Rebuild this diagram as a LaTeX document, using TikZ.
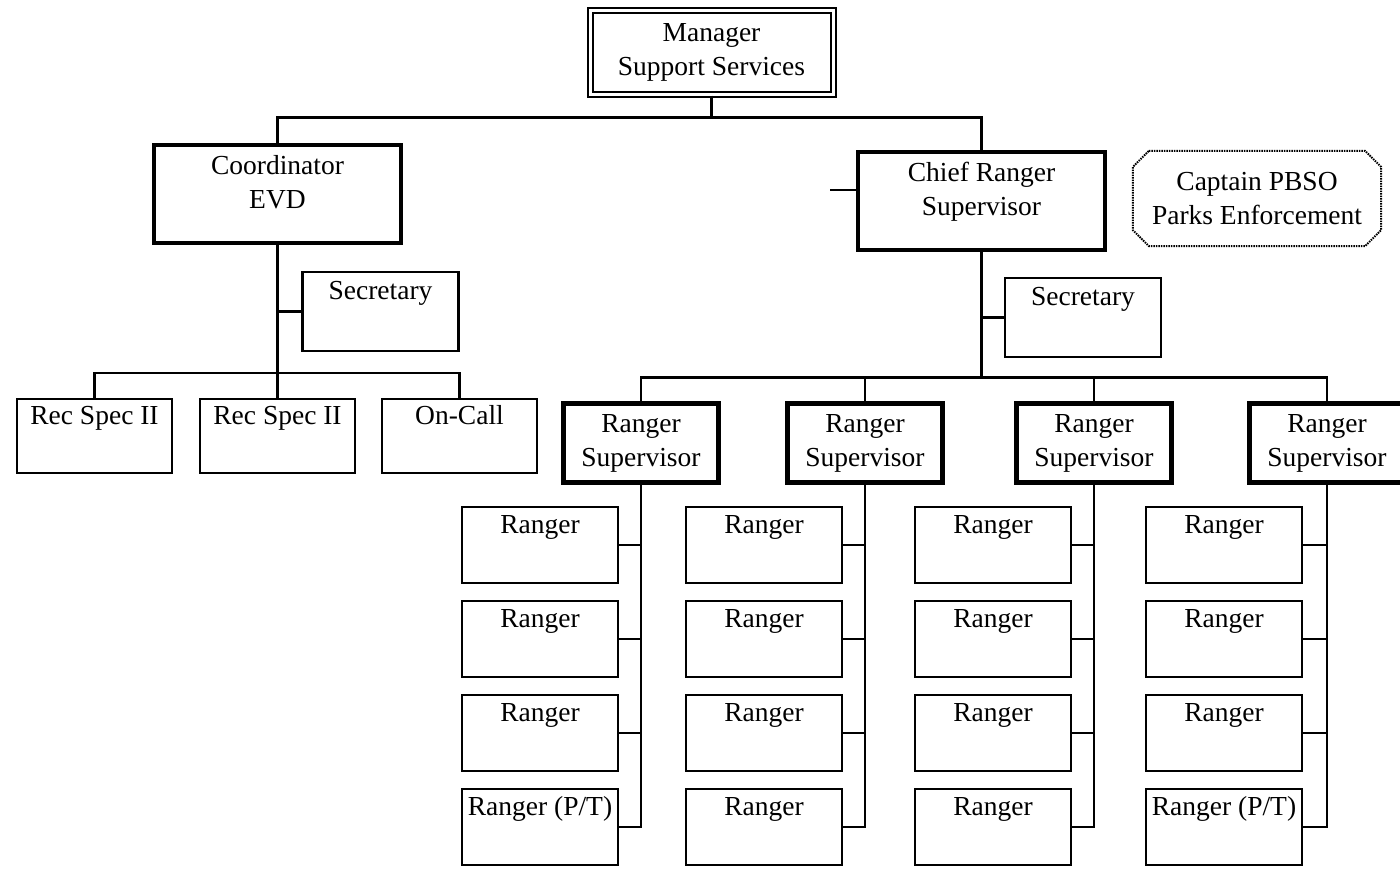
\documentclass[tikz,border=0pt]{standalone}
\usepackage{fontspec}
\setmainfont{Liberation Serif}
\usetikzlibrary{positioning}

\begin{document}
\begin{tikzpicture}[
  x=1pt, y=-1pt,
  node distance=15.8pt,
  % --- Box styles ---
  basebox/.style={
    rectangle, draw, line width=2.2pt, align=center,
    font=\fontsize{27.5}{34}\selectfont, inner xsep=2pt, inner ysep=0pt
  },
  mgrbox/.style={basebox, double, line width=2pt, double distance=3pt,
    minimum width=243pt, minimum height=84pt},
  headbox/.style={basebox, line width=4.4pt, minimum width=247pt,
    text height=63pt, text depth=35pt},
  supbox/.style={basebox, line width=4.2pt, minimum width=155pt,
    minimum height=79pt},
  secbox/.style={basebox, minimum width=156pt, text height=27pt, text depth=52pt},
  recbox/.style={basebox, minimum width=155pt, text height=25pt, text depth=49pt},
  rbox/.style={basebox, minimum width=156pt, text height=26pt, text depth=50pt},
  capbox/.style={basebox, draw=none, minimum width=246pt, minimum height=93pt},
  % --- Lines ---
  link/.style={line width=2.2pt},
  dotline/.style={line width=2pt, dash pattern=on 1.5pt off 1pt},
]

\fill[white] (0,0) rectangle (1400,870);
\useasboundingbox (0,0) rectangle (1400,870);

% ===================== TOP =====================
\node[mgrbox] (mgr) at (711.5,52.5) {Manager\\Support Services};

\node[headbox] (coord) at (277.5,194) {Coordinator\\EVD};
\node[headbox] (chief) at (981.5,201) {Chief Ranger\\Supervisor};

\node[capbox] (capt) at (1257,198.5) {Captain PBSO\\Parks Enforcement};

% ===================== LEFT BRANCH =====================
\node[secbox] (sec1) at (380.5,311.5) {Secretary};

\node[recbox] (rec1) at (94.5,436) {Rec Spec II};
\node[recbox] (rec2) at (277.5,436) {Rec Spec II};
\node[recbox] (oncall) at (459.5,436) {On-Call};

% ===================== RIGHT BRANCH =====================
\node[secbox] (sec2) at (1083,317.5) {Secretary};

\node[supbox] (sup1) at (641,443) {Ranger\\Supervisor};
\node[supbox] (sup2) at (865,443) {Ranger\\Supervisor};
\node[supbox] (sup3) at (1094,443) {Ranger\\Supervisor};
\node[supbox] (sup4) at (1327,443) {Ranger\\Supervisor};

% --- rangers, one column per supervisor ---
\node[rbox] (r11) at (540,545) {Ranger};
\node[rbox, below=of r11] (r12) {Ranger};
\node[rbox, below=of r12] (r13) {Ranger};
\node[rbox, below=of r13] (r14) {Ranger (P/T)};

\node[rbox] (r21) at (764,545) {Ranger};
\node[rbox, below=of r21] (r22) {Ranger};
\node[rbox, below=of r22] (r23) {Ranger};
\node[rbox, below=of r23] (r24) {Ranger};

\node[rbox] (r31) at (993,545) {Ranger};
\node[rbox, below=of r31] (r32) {Ranger};
\node[rbox, below=of r32] (r33) {Ranger};
\node[rbox, below=of r33] (r34) {Ranger};

\node[rbox] (r41) at (1224,545) {Ranger};
\node[rbox, below=of r41] (r42) {Ranger};
\node[rbox, below=of r42] (r43) {Ranger};
\node[rbox, below=of r43] (r44) {Ranger (P/T)};

% ================ CONNECTORS ================
\draw[link] (mgr.south) -- ++(0,22) coordinate (mbar);
\draw[link] (coord.north) |- (mbar) -| (chief.north);

\coordinate (stub) at (830,190);
\draw[link] (stub) -- (stub -| chief.west);

% left
\draw[link] (coord.south) -- (rec2.north);
\draw[link] (sec1.west) -- (sec1.west -| coord.south);
\draw[link] (rec1.north) -- ++(0,-25) -| (oncall.north);

% right
\draw[link] (chief.south) -- ([yshift=24pt]chief.south |- sup1.north);
\draw[link] (sec2.west) -- (sec2.west -| chief.south);
\draw[link] (sup1.north) -- ++(0,-24) -| (sup4.north);
\draw[link] (sup2.north) -- ++(0,-24);
\draw[link] (sup3.north) -- ++(0,-24);

\draw[link] (sup1.south) |- (r14.east);
\draw[link] (r11.east) -- (r11.east -| sup1.south);
\draw[link] (r12.east) -- (r12.east -| sup1.south);
\draw[link] (r13.east) -- (r13.east -| sup1.south);

\draw[link] (sup2.south) |- (r24.east);
\draw[link] (r21.east) -- (r21.east -| sup2.south);
\draw[link] (r22.east) -- (r22.east -| sup2.south);
\draw[link] (r23.east) -- (r23.east -| sup2.south);

\draw[link] (sup3.south) |- (r34.east);
\draw[link] (r31.east) -- (r31.east -| sup3.south);
\draw[link] (r32.east) -- (r32.east -| sup3.south);
\draw[link] (r33.east) -- (r33.east -| sup3.south);

\draw[link] (sup4.south) |- (r44.east);
\draw[link] (r41.east) -- (r41.east -| sup4.south);
\draw[link] (r42.east) -- (r42.east -| sup4.south);
\draw[link] (r43.east) -- (r43.east -| sup4.south);

% ============= CAPTAIN (dotted, cut corners) =============
\draw[dotline]
  ([xshift=16pt]capt.north west) -- ([xshift=-16pt]capt.north east)
  -- ([yshift=-16pt]capt.north east) -- ([yshift=16pt]capt.south east)
  -- ([xshift=-16pt]capt.south east) -- ([xshift=16pt]capt.south west)
  -- ([yshift=16pt]capt.south west) -- ([yshift=-16pt]capt.north west)
  -- cycle;

\end{tikzpicture}
\end{document}
